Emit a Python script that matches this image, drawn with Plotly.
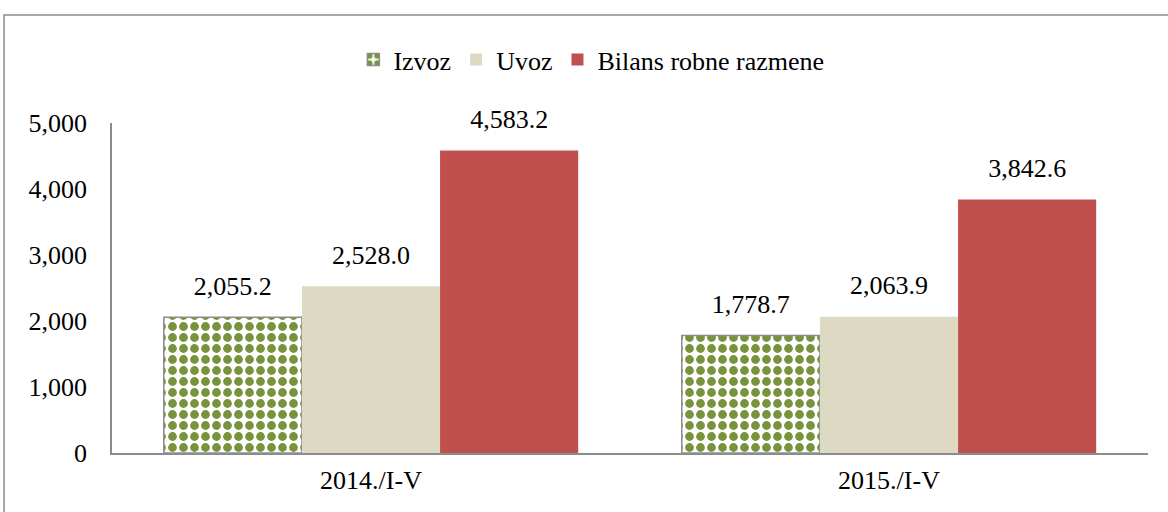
import plotly.graph_objects as go

categories = ["2014./I-V", "2015./I-V"]
series_names = ["Izvoz", "Uvoz", "Bilans robne razmene"]
izvoz = [2055.2, 1778.7]
uvoz = [2528.0, 2063.9]
bilans = [4583.2, 3842.6]
y_ticks = [0, 1000, 2000, 3000, 4000, 5000]
y_tick_labels = ["0", "1,000", "2,000", "3,000", "4,000", "5,000"]

series_values = [izvoz, uvoz, bilans]
FONT = "Liberation Serif"
FS = 26

fig = go.Figure()

# Izvoz: checkered green pattern with gray outline
fig.add_trace(go.Bar(
    name=series_names[0], x=categories, y=izvoz, offsetgroup="g0",
    marker=dict(color="white",
                line=dict(color="#8c8c8c", width=1.5),
                pattern=dict(shape=".", fgcolor="#77933C", bgcolor="white",
                             size=11, solidity=0.5, fillmode="replace")),
))
fig.add_trace(go.Bar(
    name=series_names[1], x=categories, y=uvoz, offsetgroup="g1",
    marker=dict(color="#DDD9C3", line=dict(width=0)),
))
fig.add_trace(go.Bar(
    name=series_names[2], x=categories, y=bilans, offsetgroup="g2",
    marker=dict(color="#C0504D", line=dict(width=0)),
))

# value labels, placed in the same offset groups as the bars
for i, vals in enumerate(series_values):
    fig.add_trace(go.Scatter(
        x=categories, y=vals, mode="markers+text", offsetgroup="g%d" % i,
        text=["{:,.1f}".format(v) for v in vals], textposition="top center",
        textfont=dict(family=FONT, size=FS, color="black"),
        marker=dict(size=24, color="rgba(0,0,0,0)"),
        showlegend=False, hoverinfo="skip", cliponaxis=False,
    ))

fig.update_layout(
    width=1168, height=512,
    margin=dict(l=112, r=20, t=123, b=59),
    paper_bgcolor="white", plot_bgcolor="white",
    barmode="group", bargap=0.2, bargroupgap=0,
    scattermode="group", scattergap=0.2,
    font=dict(family=FONT, size=FS, color="black"),
    showlegend=True,
    legend=dict(orientation="h", x=0.233, xanchor="left", y=1.192, yanchor="middle",
                font=dict(family=FONT, size=FS, color="black"),
                bgcolor="rgba(0,0,0,0)", itemwidth=30,
                traceorder="normal"),
    xaxis=dict(showline=True, linecolor="#8c8c8c", linewidth=1.5,
               ticks="outside", ticklen=3, tickcolor="rgba(0,0,0,0)",
               showgrid=False, zeroline=False, automargin=False,
               tickfont=dict(family=FONT, size=FS, color="black")),
    yaxis=dict(range=[0, 5000], tickvals=y_ticks, ticktext=y_tick_labels,
               showline=True, linecolor="#8c8c8c", linewidth=1.5,
               ticks="outside", ticklen=18, tickcolor="rgba(0,0,0,0)",
               showgrid=False, zeroline=False, automargin=False,
               tickfont=dict(family=FONT, size=FS, color="black")),
    shapes=[dict(type="rect", xref="paper", yref="paper",
                 x0=-0.1042, x1=1.03, y0=-0.2, y1=1.327,
                 line=dict(color="#8c8c8c", width=1.5), fillcolor="rgba(0,0,0,0)",
                 layer="below")],
)

fig.write_html("out.html", config={"displayModeBar": False},
               post_script="document.body.style.margin='0px';")
